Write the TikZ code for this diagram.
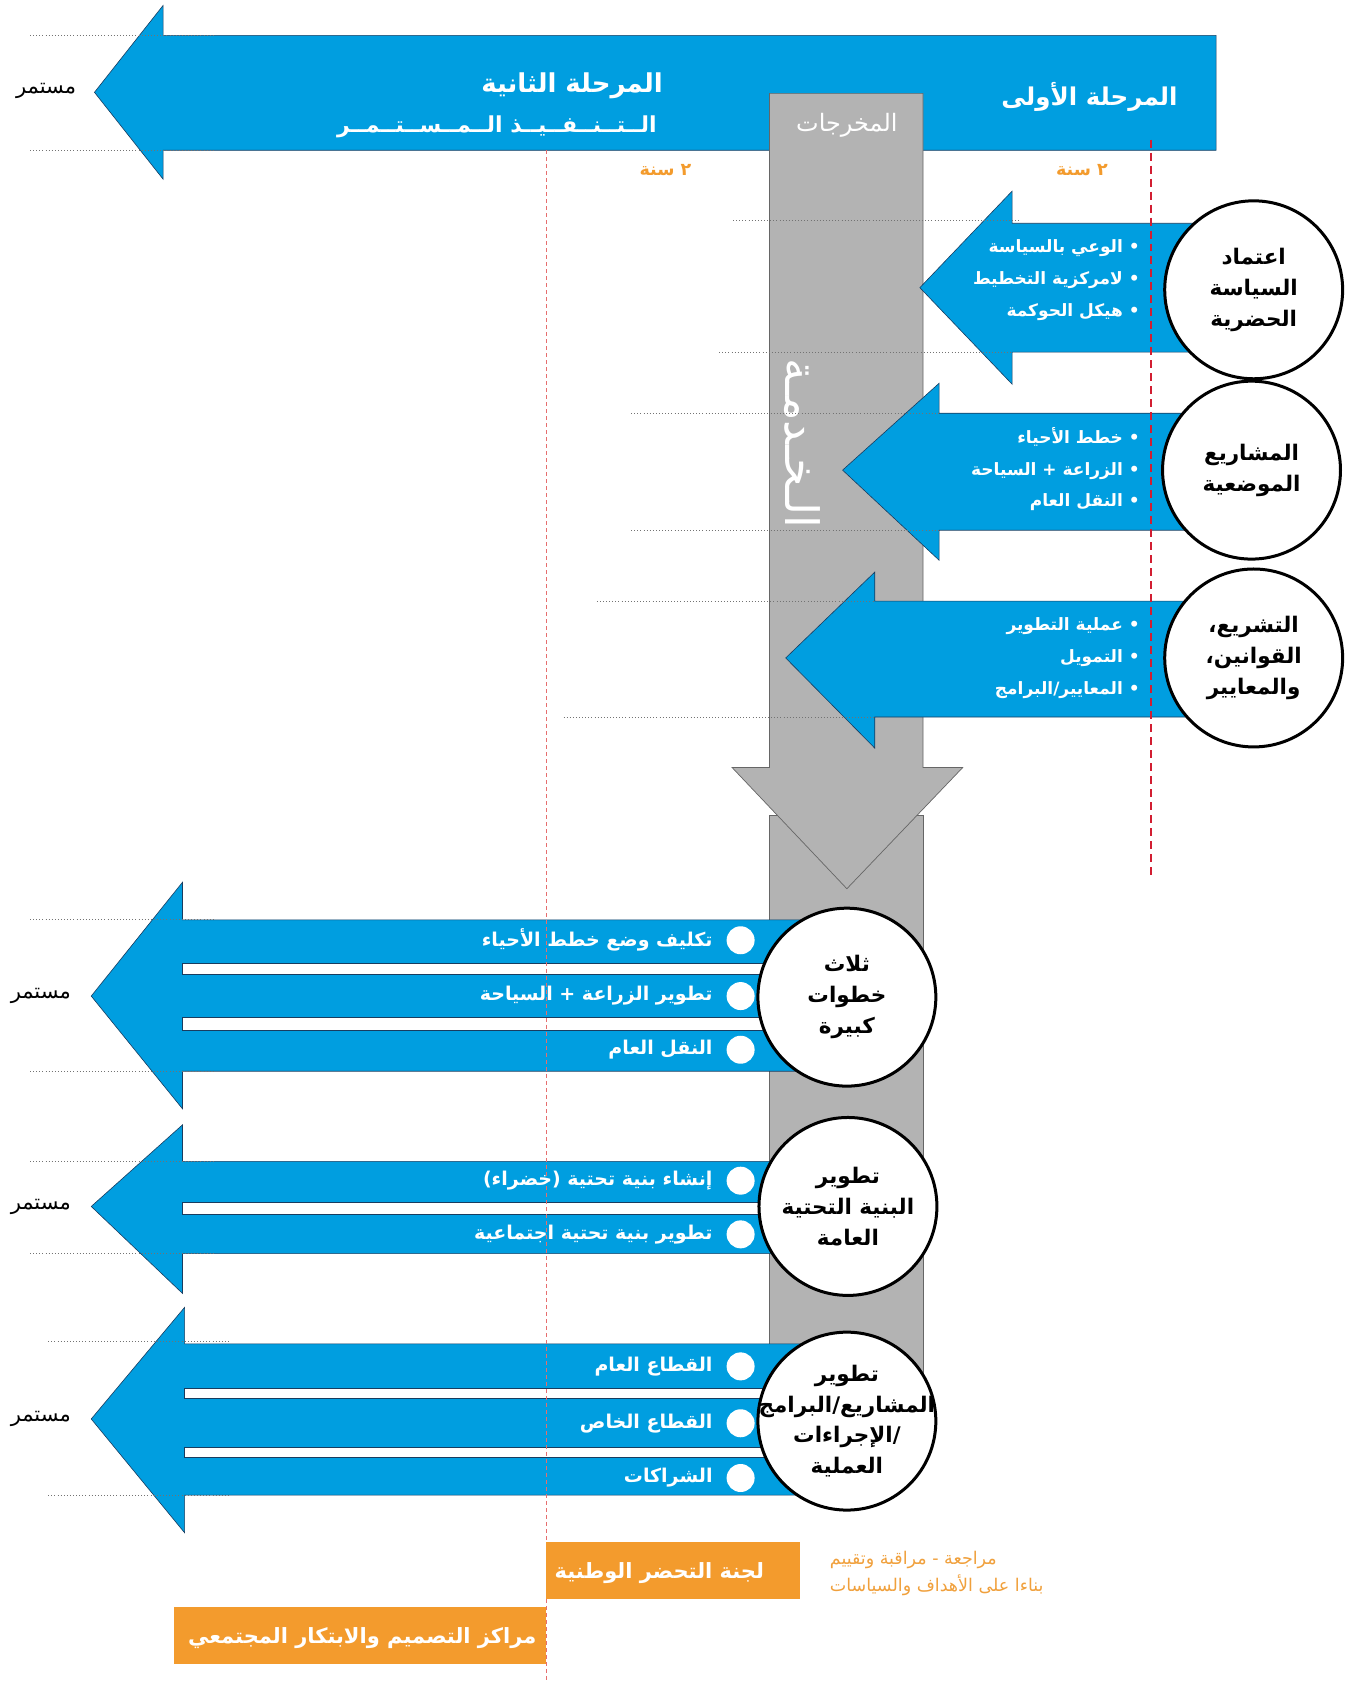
\documentclass[tikz,border=0pt]{standalone}
\usepackage{fontspec}
\setmainfont{DejaVu Sans}
\newfontfamily\arfont[Script=Arabic]{DejaVu Sans}
\TeXXeTstate=1
\definecolor{arblue}{RGB}{0,158,224}
\definecolor{argray}{RGB}{179,179,179}
\definecolor{arorange}{RGB}{243,155,45}
\definecolor{arnote}{RGB}{240,160,60}
\definecolor{arred}{RGB}{210,30,50}
\definecolor{arpink}{RGB}{230,110,110}
\definecolor{aredge}{RGB}{25,60,95}
\newcommand\AR[1]{{\arfont\beginR #1\endR}}
\begin{document}
\begin{tikzpicture}[x=1.0737pt,y=-1.0737pt,
  bluearrow/.style={fill=arblue,draw=aredge,line width=0.6pt},
  gapstrip/.style={fill=white,draw=aredge,line width=0.5pt},
  grayshape/.style={fill=argray,draw=black!60,line width=0.7pt},
  dotline/.style={draw=black!55,line width=0.9pt,dash pattern=on 0.9pt off 2.2pt},
  reddash/.style={draw=arred,line width=1.9pt,dash pattern=on 8pt off 5pt},
  pinkdash/.style={draw=arpink,line width=0.7pt,dash pattern=on 4pt off 3pt},
  circ/.style={circle,draw=black,line width=3pt,fill=white,minimum size=178pt,inner sep=0pt},
  circtext/.style={align=center,text=black,inner sep=0pt,font=\arfont\bfseries\fontsize{21.5}{31}\selectfont},
  bul/.style={text=white,align=right,font=\arfont\bfseries\fontsize{17}{32}\selectfont,inner sep=0pt},
  itemtext/.style={text=white,font=\arfont\bfseries\fontsize{19}{20}\selectfont,inner sep=0pt},
  whitedot/.style={circle,fill=white,minimum size=28pt,inner sep=0pt},
  titletext/.style={text=white,font=\arfont\bfseries\fontsize{26}{28}\selectfont,inner sep=0pt},
  phaseone/.style={text=white,font=\arfont\bfseries\fontsize{24.5}{28}\selectfont,inner sep=0pt},
  subtext/.style={text=white,font=\arfont\bfseries\fontsize{22}{24}\selectfont,inner sep=0pt},
  graytext/.style={text=white,font=\arfont\fontsize{24}{26}\selectfont,inner sep=0pt},
  verttext/.style={text=white,rotate=-90,font=\arfont\fontsize{46}{46}\selectfont,inner sep=0pt},
  yeartext/.style={text=arorange,font=\arfont\bfseries\fontsize{17.5}{18}\selectfont,inner sep=0pt},
  conttext/.style={text=black,font=\arfont\fontsize{21}{22}\selectfont,inner sep=0pt},
  obox/.style={fill=arorange,draw=none,inner sep=0pt},
  otext/.style={text=white,font=\arfont\bfseries\fontsize{21}{22}\selectfont,inner sep=0pt},
  notetext/.style={text=arnote,align=left,font=\arfont\fontsize{17.5}{27}\selectfont,inner sep=0pt}
]
\useasboundingbox (0,0) rectangle (1262,1568);

% top phase arrow
\path[bluearrow] (88,86) -- (152,5) -- (152,33) -- (1133,33) -- (1133,140) -- (152,140) -- (152,167) -- cycle;

% gray outputs bar
\path[grayshape] (717,760) rectangle (860,1290);
\path[grayshape] (717,87) -- (860,87) -- (860,715) -- (897,715) -- (789,828) -- (682,715) -- (717,715) -- cycle;
\node[graytext] (outs) at (789,117) {\AR{المخرجات}};
\node[verttext] (serv) at (748,413) {\AR{الـخـدمـة}};

% upper arrows
\path[bluearrow] (857,268) -- (943,178) -- (943,208) -- (1120,208) -- (1120,328) -- (943,328) -- (943,358) -- cycle;
\path[bluearrow] (785,438) -- (875,357) -- (875,385) -- (1120,385) -- (1120,494) -- (875,494) -- (875,522) -- cycle;
\path[bluearrow] (732,613) -- (815,533) -- (815,560) -- (1120,560) -- (1120,668) -- (815,668) -- (815,697) -- cycle;

% lower arrows
\path[bluearrow] (85,928) -- (170,822) -- (170,857) -- (760,857) -- (760,998) -- (170,998) -- (170,1033) -- cycle;
\path[gapstrip] (170,897) rectangle (760,908);
\path[gapstrip] (170,948) rectangle (760,960);
\path[bluearrow] (85,1124) -- (170,1048) -- (170,1082) -- (760,1082) -- (760,1168) -- (170,1168) -- (170,1205) -- cycle;
\path[gapstrip] (170,1120) rectangle (760,1131);
\path[bluearrow] (85,1322) -- (172,1218) -- (172,1252) -- (760,1252) -- (760,1393) -- (172,1393) -- (172,1428) -- cycle;
\path[gapstrip] (172,1293) rectangle (760,1303);
\path[gapstrip] (172,1348) rectangle (760,1358);

% dotted guide lines
\draw[dotline] (28,33) -- (200,33);
\draw[dotline] (28,140) -- (200,140);
\draw[dotline] (683,205) -- (950,205);
\draw[dotline] (670,328) -- (943,328);
\draw[dotline] (588,385) -- (875,385);
\draw[dotline] (588,494) -- (875,494);
\draw[dotline] (556,560) -- (815,560);
\draw[dotline] (525,668) -- (815,668);
\draw[dotline] (28,857) -- (200,857);
\draw[dotline] (28,998) -- (200,998);
\draw[dotline] (28,1082) -- (200,1082);
\draw[dotline] (28,1168) -- (200,1168);
\draw[dotline] (45,1250) -- (215,1250);
\draw[dotline] (45,1393) -- (215,1393);

% dashed time lines
\draw[reddash] (1072,130) -- (1072,818);
\draw[pinkdash] (509,140) -- (509,1568);

% phase texts
\node[titletext] (ph2) at (533,80) {\AR{المرحلة الثانية}};
\node[subtext,anchor=east] (impl) at (612,118) {\AR{الــتــنــفــيــذ الــمــســتــمــر}};
\node[phaseone] (ph1) at (1015,90) {\AR{المرحلة الأولى}};
\node[yeartext] (y2) at (620,158) {\AR{٢ سنة}};
\node[yeartext] (y1) at (1008,158) {\AR{٢ سنة}};
\node[conttext] (cont0) at (43,85) {\AR{مستمر}};
\node[conttext] (cont1) at (38,928) {\AR{مستمر}};
\node[conttext] (cont2) at (38,1124) {\AR{مستمر}};
\node[conttext] (cont3) at (38,1322) {\AR{مستمر}};

% upper bullet lists
\node[bul,anchor=east] (l1) at (1062,261) {\AR{• الوعي بالسياسة}\\\AR{• لامركزية التخطيط}\\\AR{• هيكل الحوكمة}};
\node[bul,anchor=east] (l2) at (1062,437) {\AR{• خطط الأحياء}\\\AR{• الزراعة + السياحة}\\\AR{• النقل العام}};
\node[bul,anchor=east] (l3) at (1062,613) {\AR{• عملية التطوير}\\\AR{• التمويل}\\\AR{• المعايير\hbox{/}البرامج}};

% circles
\node[circ] (c1) at (1168,270) {};
\node[circtext] (c1t) at (c1) {\AR{اعتماد}\\\AR{السياسة}\\\AR{الحضرية}};
\node[circ] (c2) at (1166,438) {};
\node[circtext] (c2t) at (c2) {\AR{المشاريع}\\\AR{الموضعية}};
\node[circ] (c3) at (1168,613) {};
\node[circtext] (c3t) at (c3) {\AR{التشريع،}\\\AR{القوانين،}\\\AR{والمعايير}};
\node[circ] (c4) at (789,929) {};
\node[circtext] (c4t) at (c4) {\AR{ثلاث}\\\AR{خطوات}\\\AR{كبيرة}};
\node[circ] (c5) at (790,1124) {};
\node[circtext] (c5t) at (c5) {\AR{تطوير}\\\AR{البنية التحتية}\\\AR{العامة}};
\node[circ] (c6) at (789,1324) {};
\node[circtext] (c6t) at (c6) {\AR{تطوير}\\\AR{المشاريع\hbox{/}البرامج}\\\AR{\hbox{/}الإجراءات}\\\AR{العملية}};

% lower items
\node[whitedot] (d1) at (690,876) {};
\node[itemtext,anchor=east] (t1) at (664,876) {\AR{تكليف وضع خطط الأحياء}};
\node[whitedot] (d2) at (690,928) {};
\node[itemtext,anchor=east] (t2) at (664,928) {\AR{تطوير الزراعة + السياحة}};
\node[whitedot] (d3) at (690,978) {};
\node[itemtext,anchor=east] (t3) at (664,978) {\AR{النقل العام}};
\node[whitedot] (d4) at (690,1100) {};
\node[itemtext,anchor=east] (t4) at (664,1100) {\AR{إنشاء بنية تحتية \hbox{(}خضراء\hbox{)}}};
\node[whitedot] (d5) at (690,1150) {};
\node[itemtext,anchor=east] (t5) at (664,1150) {\AR{تطوير بنية تحتية اجتماعية}};
\node[whitedot] (d6) at (690,1273) {};
\node[itemtext,anchor=east] (t6) at (664,1273) {\AR{القطاع العام}};
\node[whitedot] (d7) at (690,1326) {};
\node[itemtext,anchor=east] (t7) at (664,1326) {\AR{القطاع الخاص}};
\node[whitedot] (d8) at (690,1377) {};
\node[itemtext,anchor=east] (t8) at (664,1377) {\AR{الشراكات}};

% orange boxes
\path[obox] (509,1437) rectangle (745,1490);
\node[otext,anchor=east] (nuc) at (712,1466) {\AR{لجنة التحضر الوطنية}};
\path[obox] (162,1497) rectangle (509,1550);
\node[otext,anchor=east] (cdc) at (500,1526) {\AR{مراكز التصميم والابتكار المجتمعي}};
\node[notetext,anchor=west] (note) at (773,1466) {\AR{مراجعة - مراقبة وتقييم}\\\AR{بناءا على الأهداف والسياسات}};
\end{tikzpicture}
\end{document}
